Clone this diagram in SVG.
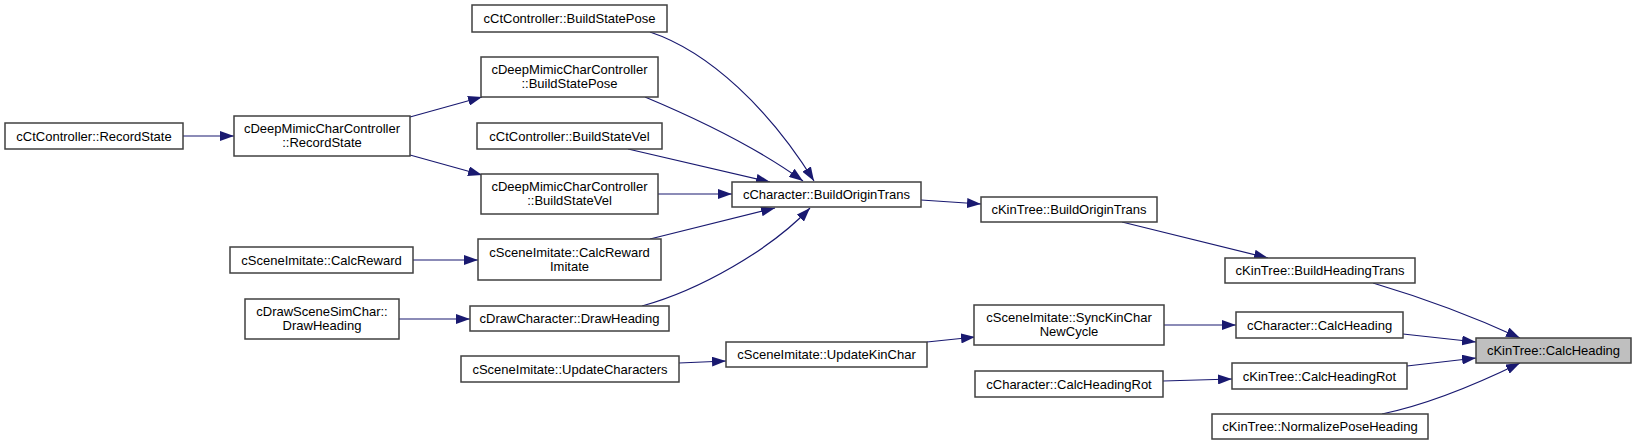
<svg xmlns="http://www.w3.org/2000/svg" width="1636" height="445" viewBox="0 0 1636 445">
<style>
.n rect{fill:#fff;stroke:#404040;stroke-width:1.5}
.n text{font-family:"Liberation Sans",Arial,sans-serif;font-size:13px;fill:#000;text-anchor:middle}
#n21 rect{fill:#bfbfbf}
.e path{fill:none;stroke:#191970;stroke-width:1.2;marker-end:url(#arr)}
</style>
<defs>
<marker id="arr" markerWidth="14" markerHeight="10" refX="14" refY="5" orient="auto" markerUnits="userSpaceOnUse"><path d="M0,0 L14,5 L0,10 z" fill="#191970"/></marker>
</defs>
<rect width="1636" height="445" fill="#fff"/>
<g id="edges" class="e">
<path d="M183,136 L234,136"/>
<path d="M410,117 L482,97"/>
<path d="M410,155 L482,175"/>
<path d="M650,32 C710,52 770,110 814,181"/>
<path d="M645,97 C700,120 760,150 803,181"/>
<path d="M628,149 L770,182"/>
<path d="M658,194 L732,194"/>
<path d="M650,239 L775,208"/>
<path d="M642,306 C700,290 770,250 810,208"/>
<path d="M413,260 L478,260"/>
<path d="M399,319 L470,319"/>
<path d="M679,363 L726,361"/>
<path d="M927,342 L975,337"/>
<path d="M921,200 L981,204"/>
<path d="M1122,222 L1268,258"/>
<path d="M1164,325 L1236,325"/>
<path d="M1163,381 L1232,379"/>
<path d="M1373,283 C1420,297 1470,315 1520,338"/>
<path d="M1403,334 L1476,342"/>
<path d="M1407,366 L1476,358"/>
<path d="M1382,414 C1430,404 1475,385 1520,363"/>
</g>
<g id="n1" class="n"><rect x="5" y="123" width="178" height="26"/><text x="94" y="140.5">cCtController::RecordState</text></g>
<g id="n2" class="n"><rect x="234" y="116" width="176" height="40"/><text x="322" y="133">cDeepMimicCharController</text><text x="322" y="147">::RecordState</text></g>
<g id="n3" class="n"><rect x="472" y="5" width="195" height="27"/><text x="569.5" y="23">cCtController::BuildStatePose</text></g>
<g id="n4" class="n"><rect x="481" y="57" width="177" height="40"/><text x="569.5" y="74">cDeepMimicCharController</text><text x="569.5" y="88">::BuildStatePose</text></g>
<g id="n5" class="n"><rect x="477" y="123" width="185" height="26"/><text x="569.5" y="140.5">cCtController::BuildStateVel</text></g>
<g id="n6" class="n"><rect x="481" y="174" width="177" height="40"/><text x="569.5" y="191">cDeepMimicCharController</text><text x="569.5" y="205">::BuildStateVel</text></g>
<g id="n7" class="n"><rect x="732" y="182" width="189" height="25"/><text x="826.5" y="199">cCharacter::BuildOriginTrans</text></g>
<g id="n8" class="n"><rect x="230" y="247" width="183" height="26"/><text x="321.5" y="264.5">cSceneImitate::CalcReward</text></g>
<g id="n9" class="n"><rect x="478" y="239" width="183" height="41"/><text x="569.5" y="256.5">cSceneImitate::CalcReward</text><text x="569.5" y="270.5">Imitate</text></g>
<g id="n10" class="n"><rect x="245" y="299" width="154" height="40"/><text x="322" y="316">cDrawSceneSimChar::</text><text x="322" y="330">DrawHeading</text></g>
<g id="n11" class="n"><rect x="470" y="306" width="199" height="25"/><text x="569.5" y="323">cDrawCharacter::DrawHeading</text></g>
<g id="n12" class="n"><rect x="461" y="356" width="218" height="26"/><text x="570" y="373.5">cSceneImitate::UpdateCharacters</text></g>
<g id="n13" class="n"><rect x="726" y="342" width="201" height="25"/><text x="826.5" y="359">cSceneImitate::UpdateKinChar</text></g>
<g id="n14" class="n"><rect x="981" y="197" width="176" height="25"/><text x="1069" y="214">cKinTree::BuildOriginTrans</text></g>
<g id="n15" class="n"><rect x="1225" y="258" width="190" height="25"/><text x="1320" y="275">cKinTree::BuildHeadingTrans</text></g>
<g id="n16" class="n"><rect x="974" y="305" width="190" height="40"/><text x="1069" y="322">cSceneImitate::SyncKinChar</text><text x="1069" y="336">NewCycle</text></g>
<g id="n17" class="n"><rect x="1236" y="312" width="167" height="26"/><text x="1319.5" y="329.5">cCharacter::CalcHeading</text></g>
<g id="n18" class="n"><rect x="975" y="371" width="188" height="26"/><text x="1069" y="388.5">cCharacter::CalcHeadingRot</text></g>
<g id="n19" class="n"><rect x="1232" y="363" width="175" height="26"/><text x="1319.5" y="380.5">cKinTree::CalcHeadingRot</text></g>
<g id="n20" class="n"><rect x="1212" y="414" width="216" height="25"/><text x="1320" y="431">cKinTree::NormalizePoseHeading</text></g>
<g id="n21" class="n"><rect x="1476" y="338" width="155" height="25"/><text x="1553.5" y="355">cKinTree::CalcHeading</text></g>
</svg>
